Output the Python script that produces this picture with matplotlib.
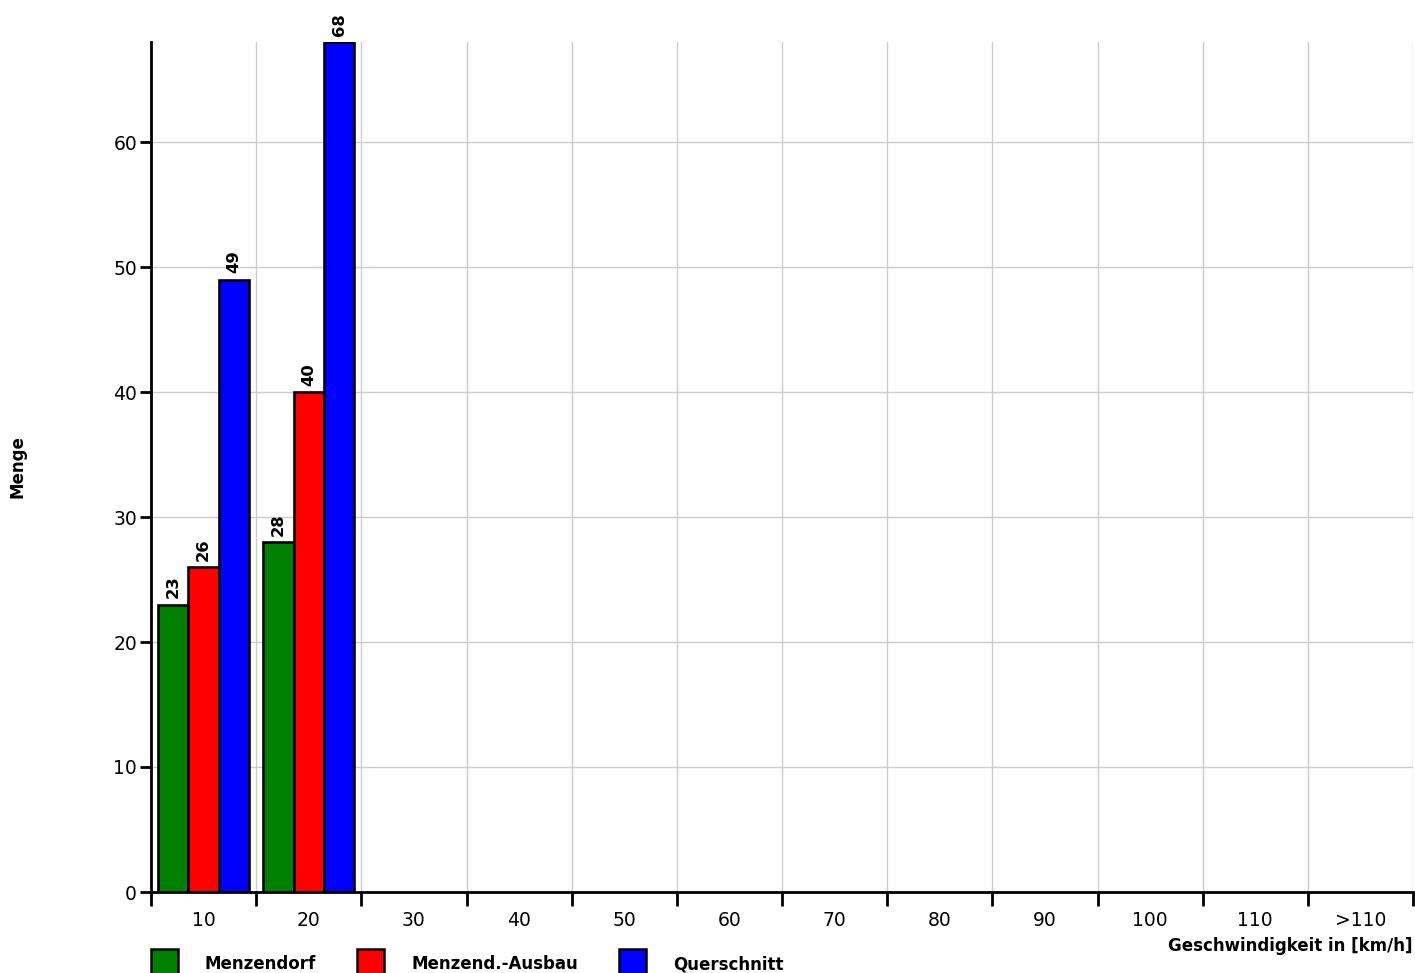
import matplotlib
matplotlib.use("Agg")
import matplotlib.pyplot as plt
from matplotlib.patches import Rectangle
import numpy as np

categories = ["10", "20", "30", "40", "50", "60", "70", "80", "90", "100", "110", ">110"]
series_names = ["Menzendorf", "Menzend.-Ausbau", "Querschnitt"]
menzendorf = [23, 28, 0, 0, 0, 0, 0, 0, 0, 0, 0, 0]
ausbau = [26, 40, 0, 0, 0, 0, 0, 0, 0, 0, 0, 0]
querschnitt = [49, 68, 0, 0, 0, 0, 0, 0, 0, 0, 0, 0]
colors = ["#008000", "#ff0000", "#0000ff"]

W, H = 1415, 973
fig = plt.figure(figsize=(W / 100, H / 100), dpi=100)
ax = fig.add_axes([151 / W, 1 - 892 / H, (1413 - 151) / W, (892 - 42) / H])

n = len(categories)
x = np.arange(n) + 0.5
bw = 0.288
for k, (vals, c) in enumerate(zip([menzendorf, ausbau, querschnitt], colors)):
    pos = x + (k - 1) * bw
    for xi, v in zip(pos, vals):
        if v > 0:
            ax.bar(xi, v, width=bw, color=c, edgecolor="black", linewidth=1.9, zorder=3)
            ax.annotate(str(v), (xi, v), xytext=(0, 4.5), textcoords="offset points",
                        rotation=90, ha="center", va="bottom", fontsize=11.8,
                        fontweight="bold", annotation_clip=False)

ax.set_xlim(0, n)
ax.set_ylim(0, 68)
ax.set_xticks(np.arange(n + 1))
ax.set_xticklabels([])
ax.set_xticks(x, minor=True)
ax.set_xticklabels(categories, minor=True, fontsize=13.5)
ax.tick_params(axis="x", which="major", length=10, width=2, direction="out")
ax.tick_params(axis="x", which="minor", length=0, pad=14)
ax.set_yticks(np.arange(0, 61, 10))
ax.tick_params(axis="y", length=8, width=2, labelsize=13.5, pad=2)
for s in ["top", "right"]:
    ax.spines[s].set_visible(False)
for s in ["left", "bottom"]:
    ax.spines[s].set_linewidth(2)
ax.grid(True, which="major", color="#cccccc", linewidth=1, zorder=0)
ax.set_axisbelow(True)

fig.text(1413 / W, 1 - 946 / H, "Geschwindigkeit in [km/h]", ha="right", va="center",
         fontsize=12, fontweight="bold")
fig.text(18 / W, 1 - 467 / H, "Menge", rotation=90, ha="center", va="center",
         fontsize=12, fontweight="bold")

# legend (manual, partly cut at the bottom like the reference)
legend_x = [151, 357, 619]
for lx, name, c in zip(legend_x, series_names, colors):
    fig.patches.append(Rectangle((lx / W, 1 - 980 / H), 27 / W, 31 / H,
                                 transform=fig.transFigure, facecolor=c,
                                 edgecolor="black", linewidth=1.8))
    fig.text((lx + 54) / W, 1 - 969 / H, name, ha="left", va="baseline",
             fontsize=12, fontweight="bold")

fig.savefig("out.png", dpi=100)
